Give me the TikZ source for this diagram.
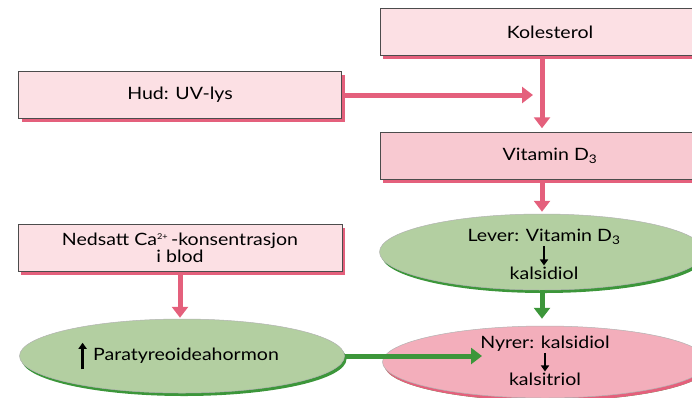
\documentclass[tikz,border=0pt]{standalone}
\usepackage{fontspec}
\setmainfont{Lato}[FakeStretch=1.15]
\usepackage{tikz}
\usetikzlibrary{arrows.meta,shapes.geometric,shadows}

\definecolor{lyserosa}{HTML}{FCE0E4}
\definecolor{vitrosa}{HTML}{F8C9D1}
\definecolor{nyrrosa}{HTML}{F3AEBB}
\definecolor{pilrosa}{HTML}{E4607C}
\definecolor{lysgronn}{HTML}{B3CFA1}
\definecolor{morkgronn}{HTML}{3C963A}

\begin{document}
\begin{tikzpicture}[x=1pt,y=-1pt,font=\fontsize{17}{19}\selectfont,
    boks/.style={draw=gray!60!black, line width=0.5pt, fill=lyserosa, inner sep=0pt,
        minimum height=47, drop shadow={fill=pilrosa, opacity=1, shadow xshift=3pt, shadow yshift=-3pt}},
    oval/.style={ellipse, draw=gray!60, line width=0.5pt, fill=lysgronn, inner sep=0pt,
        drop shadow={fill=morkgronn, opacity=1, shadow xshift=2pt, shadow yshift=-3pt}},
    rosapil/.style={draw=pilrosa, line width=5pt, -{Triangle[width=16pt,length=11pt]}},
    gronnpil/.style={draw=morkgronn, line width=5pt, -{Triangle[width=16pt,length=11pt]}},
    litenpil/.style={line width=2.6pt, -{Triangle[width=8pt,length=6pt]}}]
        \clip (0,0) rectangle (692,397);

        % Bokser
        \node[boks, minimum width=340] (kol) at (550,32) {Kolesterol};
        \node[boks, minimum width=340, fill=vitrosa] (vit) at (550,156) {Vitamin D\textsubscript{3}};
        \node[boks, minimum width=323] (hud) at (180,95) {Hud: UV-lys};
        \node[boks, minimum width=324, align=center, font=\fontsize{17}{17}\selectfont] (ca) at (180,248)
            {Nedsatt Ca\textsuperscript{\footnotesize 2+}\,-konsentrasjon\\i blod};

        % Ovaler
        \node[oval, minimum width=325, minimum height=76] (lever) at (542,252) {};
        \node[oval, minimum width=325, minimum height=72, fill=nyrrosa,
            drop shadow={fill=pilrosa, opacity=1, shadow xshift=2pt, shadow yshift=-3pt}] (nyre) at (545,362) {};
        \node[oval, minimum width=325, minimum height=74] (para) at (182,356) {};

        % Tekst i ovalene
        \node[inner sep=1pt] (levtop) at (544,237) {Lever: Vitamin D\textsubscript{3}};
        \node[inner sep=1pt] (levbunn) at (544,273) {kalsidiol};
        \draw[litenpil] (levtop) -- (levbunn);
        \node[inner sep=1pt] (nyrtop) at (545,344) {Nyrer: kalsidiol};
        \node[inner sep=1pt] (nyrbunn) at (545,379) {kalsitriol};
        \draw[litenpil] (nyrtop) -- (nyrbunn);
        \node (pth) at (186,356) {Paratyreoideahormon};
        \draw[litenpil] ([xshift=-7pt,yshift=-2pt]pth.south west) -- ([xshift=-7pt,yshift=2pt]pth.north west);

        % Piler
        \coordinate (uvslutt) at (533,95);
        \coordinate (pthslutt) at (482,356);
        \draw[rosapil, shorten >=4pt] (kol.south -| lever.center) -- (vit.north -| lever.center);
        \draw[rosapil] (hud.east) -- (uvslutt);
        \draw[rosapil, shorten >=2pt] (vit.south -| lever.center) -- (lever.north);
        \draw[gronnpil, shorten >=7pt] (lever.south) -- (lever.south |- nyre.north);
        \draw[rosapil, shorten >=1pt] (ca.south) -- (ca.south |- para.north);
        \draw[gronnpil] (para.east) -- (pthslutt);
\end{tikzpicture}
\end{document}
